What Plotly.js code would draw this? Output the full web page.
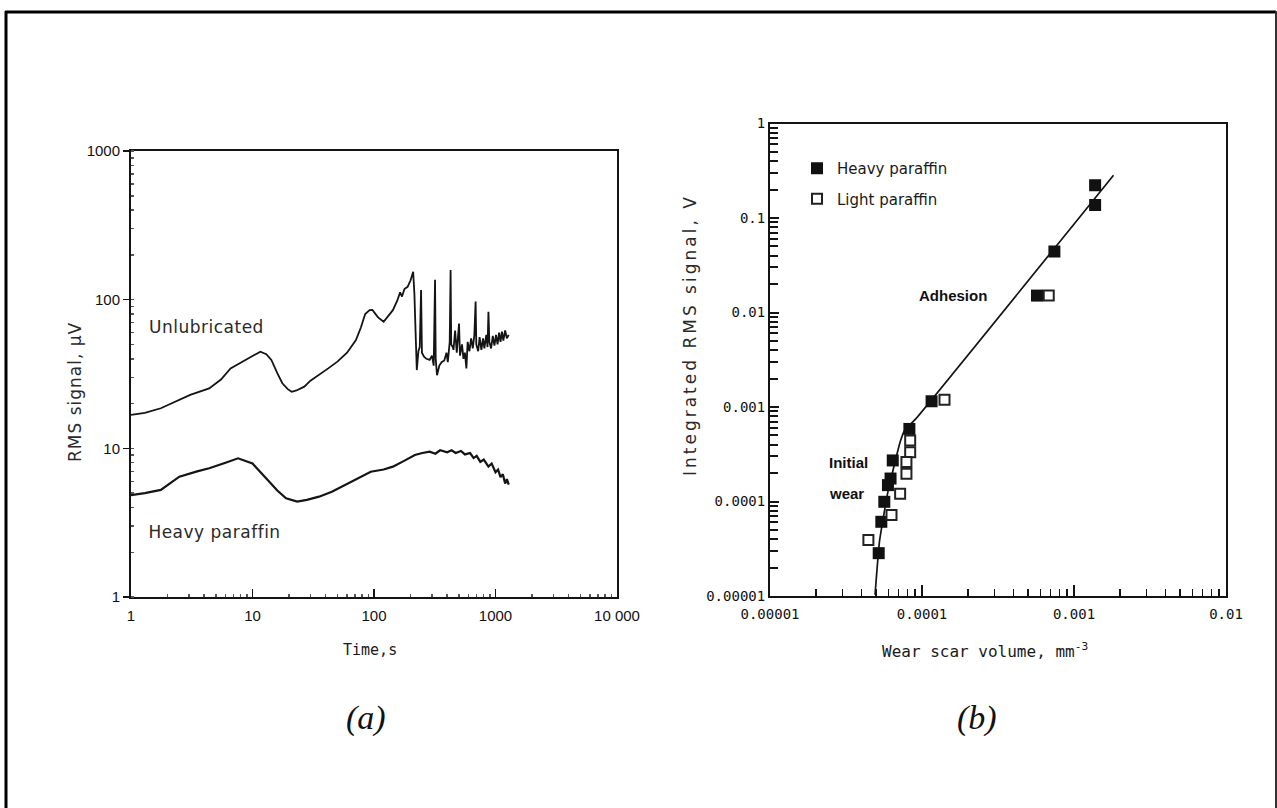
<!DOCTYPE html>
<html>
<head>
<meta charset="utf-8">
<script src="https://cdn.plot.ly/plotly-3.0.1.min.js"></script>
<style>
html,body{margin:0;padding:0;background:#fff;}
#chart{width:1277px;height:808px;}
</style>
</head>
<body>
<div id="chart"></div>
<script>
// ---------- Panel (a): RMS signal vs time ----------
const timeUnlub = [1,1.3,1.76,2.3,3.07,4.4,5.5,6.6,8.75,10.5,11.6,13,14.3,16,17.6,19.5,21,23,26.7,30,35.3,42,50,60,71,78,84.6,92,97,108,120,132,143,155,164,170,178,189,200,210,215,220,225,232,238,244,248,258,270,287,300,310,318,322,330,345,360,379,395,405,420,427,432,445,451,465,480,501,510,530,545,560,576,590,610,630,650,670,686,695,720,740,765,790,810,840,860,875,890,920,950,980,1010,1040,1070,1100,1130,1160,1200,1240,1285];
const rmsUnlub = [16.8,17.3,18.6,20.5,22.9,25.3,29,34.5,39.3,43,44.7,43,39.3,32,27.4,25,24,24.5,26,28.5,31.1,34.5,38.3,44,53.5,65,80,85,85.2,76,71,78,85,98,112,105,118,122,135,154,110,60,33.6,45,48,116,44,41.3,40,39.3,42,36,136,40,31,36,38,39,44,38,52,158,50,48,46,62,44,69,42,50,40,44,34.5,52,45,55,47,58,97,50,45,56,46,55,47,58,48,83,52,47,57,49,58,50,60,52,61,53,62,55,58];

const timeHeavy = [1,1.3,1.76,2.2,2.5,3.5,4.4,6,7.6,10,13.3,16,18.9,23.3,28,35.3,45,54,70,94,120,143,180,217,250,287,320,350,400,435,470,520,560,618,660,700,750,800,875,930,1000,1050,1100,1150,1200,1241,1285];
const rmsHeavy = [4.85,5.0,5.25,6.0,6.45,7.0,7.34,8.0,8.57,7.9,6.12,5.2,4.61,4.38,4.5,4.73,5.1,5.52,6.2,6.96,7.2,7.53,8.3,9.02,9.3,9.5,9.2,9.7,9.4,9.7,9.3,9.6,9.1,9.3,8.6,8.9,8.1,8.4,7.53,7.9,6.9,7.2,6.4,6.7,5.8,6.2,5.7];

const aTickVals = [1,10,100,1000,10000];
const aTickText = ['1','10','100','1000','10 000'];
const aYTickVals = [1,10,100,1000];
const aYTickText = ['1','10','100','1000'];

// ---------- Panel (b): integrated RMS vs wear scar volume ----------
const wearHeavy = [1.377e-3,1.377e-3,7.43e-4,5.71e-4,1.156e-4,8.26e-5,6.42e-5,6.21e-5,5.97e-5,5.65e-5,5.4e-5,5.19e-5];
const intHeavy  = [0.222,0.137,0.0442,0.0151,1.15e-3,5.86e-4,2.72e-4,1.75e-4,1.49e-4,9.93e-5,6.1e-5,2.84e-5];

const wearLight = [6.82e-4,1.406e-4,8.36e-5,8.36e-5,7.9e-5,7.9e-5,7.18e-5,6.3e-5,4.44e-5];
const intLight  = [0.0151,1.19e-3,4.42e-4,3.33e-4,2.62e-4,1.97e-4,1.21e-4,7.2e-5,3.92e-5];

const wearFit = [1.82e-3,9.09e-5,7.68e-5,7.18e-5,5.97e-5,5.25e-5,4.91e-5];
const intFit  = [0.284,7.48e-4,5.64e-4,4.25e-4,1.27e-4,3.77e-5,1.03e-5];

const bXTickVals = [1e-5,1e-4,1e-3,1e-2];
const bXTickText = ['0.00001','0.0001','0.001','0.01'];
const bYTickVals = [1e-5,1e-4,1e-3,1e-2,0.1,1];
const bYTickText = ['0.00001','0.0001','0.001','0.01','0.1','1'];

// ---------- figure ----------
const W = 1277, H = 808;
const px = v => v / W;
const py = v => 1 - v / H;
const ink = '#141414';

const traces = [
  {x: timeUnlub, y: rmsUnlub, type:'scatter', mode:'lines', xaxis:'x', yaxis:'y',
   line:{color:ink, width:1.8}, showlegend:false, hoverinfo:'skip'},
  {x: timeHeavy, y: rmsHeavy, type:'scatter', mode:'lines', xaxis:'x', yaxis:'y',
   line:{color:ink, width:2.2}, showlegend:false, hoverinfo:'skip'},
  {x: wearFit, y: intFit, type:'scatter', mode:'lines', xaxis:'x2', yaxis:'y2',
   line:{color:ink, width:1.7, shape:'spline', smoothing:0.4}, showlegend:false, hoverinfo:'skip'},
  {x: wearHeavy, y: intHeavy, type:'scatter', mode:'markers', xaxis:'x2', yaxis:'y2',
   name:'Heavy paraffin', legendgroup:'h',
   marker:{symbol:'square', size:12, color:'#111', line:{width:0}}},
  {x: wearLight, y: intLight, type:'scatter', mode:'markers', xaxis:'x2', yaxis:'y2',
   name:'Light paraffin', legendgroup:'l',
   marker:{symbol:'square', size:10, color:'#fff', line:{width:2, color:'#222'}}}
];

const tickFontA = {family:'Liberation Sans, Arial, sans-serif', size:15, color:'#111'};
const tickFontB = {family:'DejaVu Sans Mono, monospace', size:14, color:'#111'};

const layout = {
  width: W, height: H,
  margin:{l:0, r:0, t:0, b:0, pad:0},
  paper_bgcolor:'#fff', plot_bgcolor:'#fff',
  showlegend:true,
  legend:{x:px(797), y:py(152), xanchor:'left', yanchor:'top',
          font:{family:'DejaVu Sans, sans-serif', size:15, color:'#1a1a1a'},
          bgcolor:'rgba(0,0,0,0)', tracegroupgap:8, traceorder:'grouped'},
  xaxis:{type:'log', domain:[px(131), px(617)], range:[0,4], anchor:'y',
         tickmode:'array', tickvals:aTickVals, ticktext:aTickText,
         ticks:'inside', ticklen:8, tickwidth:1.5, tickcolor:ink, ticklabelstandoff:4,
         minor:{dtick:'D1', ticks:'inside', ticklen:3, tickcolor:'#555'},
         showline:true, mirror:true, linecolor:ink, linewidth:2,
         showgrid:false, zeroline:false, tickfont:tickFontA},
  yaxis:{type:'log', domain:[py(597), py(151)], range:[0,3], anchor:'x',
         tickmode:'array', tickvals:aYTickVals, ticktext:aYTickText,
         ticks:'outside', ticklen:6, tickwidth:1.5, tickcolor:ink,
         minor:{dtick:'D1', ticks:'inside', ticklen:3, tickcolor:'#555'},
         showline:true, mirror:true, linecolor:ink, linewidth:2,
         showgrid:false, zeroline:false, tickfont:tickFontA},
  xaxis2:{type:'log', domain:[px(770), px(1226)], range:[-5,-2], anchor:'y2',
         tickmode:'array', tickvals:bXTickVals, ticktext:bXTickText,
         ticks:'inside', ticklen:11, tickwidth:1.5, tickcolor:ink, ticklabelstandoff:4,
         minor:{dtick:'D1', ticks:'inside', ticklen:7, tickcolor:ink},
         showline:true, mirror:true, linecolor:ink, linewidth:2,
         showgrid:false, zeroline:false, tickfont:tickFontB},
  yaxis2:{type:'log', domain:[py(596), py(123.5)], range:[-5,0], anchor:'x2',
         tickmode:'array', tickvals:bYTickVals, ticktext:bYTickText,
         ticks:'inside', ticklen:9, tickwidth:2, tickcolor:ink,
         minor:{dtick:'D1', ticks:'inside', ticklen:8, tickcolor:ink},
         showline:true, mirror:true, linecolor:ink, linewidth:2,
         showgrid:false, zeroline:false, tickfont:tickFontB},
  shapes:[
    {type:'line', xref:'paper', yref:'paper', x0:px(6), x1:px(6), y0:-0.02, y1:py(11), line:{color:'#000', width:3}},
    {type:'line', xref:'paper', yref:'paper', x0:px(5), x1:px(1276), y0:py(12), y1:py(12), line:{color:'#000', width:3}},
    {type:'line', xref:'paper', yref:'paper', x0:px(1276), x1:px(1276), y0:-0.02, y1:py(11), line:{color:'#333', width:2}}
  ],
  annotations:[
    {text:'Unlubricated', xref:'paper', yref:'paper', x:px(150), y:py(327), xanchor:'left', yanchor:'middle', showarrow:false,
     font:{family:'DejaVu Sans, sans-serif', size:17, color:'#2a2a2a'}},
    {text:'Heavy paraffin', xref:'paper', yref:'paper', x:px(150), y:py(532), xanchor:'left', yanchor:'middle', showarrow:false,
     font:{family:'DejaVu Sans, sans-serif', size:17, color:'#2a2a2a'}},
    {text:'Time,s', xref:'paper', yref:'paper', x:px(370), y:py(650), xanchor:'center', yanchor:'middle', showarrow:false,
     font:{family:'DejaVu Sans Mono, monospace', size:15, color:'#1a1a1a'}},
    {text:'RMS signal, µV', xref:'paper', yref:'paper', x:px(75), y:py(392), xanchor:'center', yanchor:'middle', showarrow:false, textangle:-90,
     font:{family:'DejaVu Sans, sans-serif', size:17, color:'#2a2a2a'}},
    {text:'(a)', xref:'paper', yref:'paper', x:px(366), y:py(718), xanchor:'center', yanchor:'middle', showarrow:false,
     font:{family:'Liberation Serif, serif', size:34, color:'#111', style:'italic'}},
    {text:'Adhesion', xref:'paper', yref:'paper', x:px(917), y:py(295), xanchor:'left', yanchor:'middle', showarrow:false,
     font:{family:'Liberation Sans, Arial, sans-serif', size:15, color:'#111', weight:'bold'}},
    {text:'Initial', xref:'paper', yref:'paper', x:px(827), y:py(463), xanchor:'left', yanchor:'middle', showarrow:false,
     font:{family:'Liberation Sans, Arial, sans-serif', size:15, color:'#111', weight:'bold'}},
    {text:'wear', xref:'paper', yref:'paper', x:px(827), y:py(493), xanchor:'left', yanchor:'middle', showarrow:false,
     font:{family:'Liberation Sans, Arial, sans-serif', size:15, color:'#111', weight:'bold'}},
    {text:'Wear scar volume, mm<sup>-3</sup>', xref:'paper', yref:'paper', x:px(985), y:py(650), xanchor:'center', yanchor:'middle', showarrow:false,
     font:{family:'DejaVu Sans Mono, monospace', size:16, color:'#1a1a1a'}},
    {text:'Integrated RMS signal, V', xref:'paper', yref:'paper', x:px(690), y:py(335), xanchor:'center', yanchor:'middle', showarrow:false, textangle:-90,
     font:{family:'DejaVu Sans, sans-serif', size:17, color:'#2a2a2a'}},
    {text:'(b)', xref:'paper', yref:'paper', x:px(977), y:py(718), xanchor:'center', yanchor:'middle', showarrow:false,
     font:{family:'Liberation Serif, serif', size:34, color:'#111', style:'italic'}}
  ]
};

Plotly.newPlot('chart', traces, layout, {displayModeBar:false, staticPlot:true}).then(function(gd){
  gd.querySelectorAll('.annotation-text').forEach(function(t){
    const s = t.textContent;
    if (s.indexOf('Integrated') === 0) t.style.letterSpacing = '3px';
    if (s.indexOf('RMS signal') === 0) t.style.letterSpacing = '1px';
    if (s.indexOf('Unlubricated') === 0 || s.indexOf('Heavy paraffin') === 0) t.style.letterSpacing = '0.5px';
  });
});
</script>
</body>
</html>
